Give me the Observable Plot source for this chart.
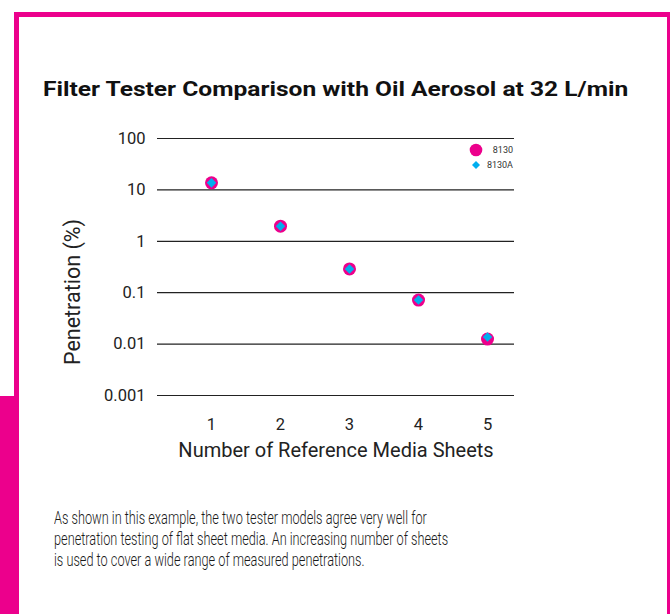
<!DOCTYPE html>
<html>
<head>
<meta charset="utf-8">
<script src="https://cdn.jsdelivr.net/npm/d3@7"></script>
<script src="https://cdn.jsdelivr.net/npm/@observablehq/plot@0.6"></script>
<style>
  html, body { margin: 0; padding: 0; background: #fff; }
  #page { position: relative; width: 670px; height: 614px; overflow: hidden; font-family: Roboto, "Open Sans", sans-serif; }
  .bar { position: absolute; background: #EC008C; }
  #title { position: absolute; left: 43px; top: 77px; font-family: Roboto, sans-serif; font-weight: 700; font-size: 21px; color: #111; white-space: nowrap; transform-origin: 0 0; }
  #chart { position: absolute; left: 0; top: 120px; }
  #legend { position: absolute; left: 467px; top: 143px; width: 46px; font-size: 9px; color: #333; }
  #legend .row { position: relative; height: 15px; }
  #legend .row svg { position: absolute; left: 2px; top: 0; }
  #legend .row span { position: absolute; right: 0; top: 2px; }
  #caption { position: absolute; left: 54px; top: 507px; font-family: Roboto, sans-serif; font-weight: 300; font-size: 18px; line-height: 21px; color: #1a1a1a; white-space: nowrap; transform-origin: 0 0; }
</style>
</head>
<body>
<div id="page">
  <div class="bar" style="left:14px; top:12px; width:656px; height:5px;"></div>
  <div class="bar" style="left:14px; top:12px; width:5px; height:602px;"></div>
  <div class="bar" style="left:667px; top:12px; width:3px; height:602px;"></div>
  <div class="bar" style="left:0px; top:396px; width:19px; height:218px;"></div>
  <div id="title">Filter Tester Comparison with Oil Aerosol at 32 L/min</div>
  <div id="chart"></div>
  <div id="legend"></div>
  <div id="caption">As shown in this example, the two tester models agree very well for<br>penetration testing of flat sheet media. An increasing number of sheets<br>is used to cover a wide range of measured penetrations.</div>
</div>
<script>
const sheets = [1, 2, 3, 4, 5];
const pen8130 = [13.7, 1.97, 0.29, 0.072, 0.0125];
const pen8130A = [13.7, 1.97, 0.29, 0.072, 0.0138];
const yTicks = [0.001, 0.01, 0.1, 1, 10, 100];
const yTickLabels = ["0.001", "0.01", "0.1", "1", "10", "100"];
const seriesNames = ["8130", "8130A"];
const seriesColors = ["#EC008C", "#00AEEF"];
const xLabel = "Number of Reference Media Sheets";
const yLabel = "Penetration (%)";

const d8130 = sheets.map((s, i) => ({sheets: s, pen: pen8130[i]}));
const d8130A = sheets.map((s, i) => ({sheets: s, pen: pen8130A[i]}));

const chart = Plot.plot({
  width: 670,
  height: 350,
  marginLeft: 157,
  marginRight: 156,
  marginTop: 18,
  marginBottom: 75,
  style: {fontFamily: "Roboto, 'Open Sans', sans-serif", color: "#222", background: "transparent"},
  x: {domain: [0.2174, 5.391]},
  y: {type: "log", domain: [0.001, 100]},
  marks: [
    Plot.ruleY(yTicks, {stroke: "#222", strokeWidth: 1.2}),
    Plot.axisY({ticks: yTicks, tickFormat: d => yTickLabels[yTicks.indexOf(d)], tickSize: 0, tickPadding: 12, fontSize: 16.5, label: null}),
    Plot.axisX({ticks: sheets, tickFormat: d => String(d), tickSize: 0, tickPadding: 23, fontSize: 16.5, label: null}),
    Plot.text([yLabel], {text: d => d, frameAnchor: "left", textAnchor: "middle", lineAnchor: "middle", rotate: -90, dx: -84, dy: 25, fontSize: 21.5, fill: "#222"}),
    Plot.text([xLabel], {text: d => d, frameAnchor: "bottom", textAnchor: "middle", dy: 61, fontSize: 20, fill: "#222"}),
    Plot.dot(d8130, {x: "sheets", y: "pen", r: 6.5, fill: seriesColors[0], stroke: "none"}),
    Plot.dot(d8130A, {x: "sheets", y: "pen", symbol: "diamond2", r: 4.3, fill: seriesColors[1], stroke: "none"})
  ]
});
document.getElementById("chart").appendChild(chart);

// legend
const legend = document.getElementById("legend");
seriesNames.forEach((name, i) => {
  const row = document.createElement("div");
  row.className = "row";
  const sym = i === 0
    ? `<svg width="14" height="14"><circle cx="7" cy="7" r="6.3" fill="${seriesColors[i]}"/></svg>`
    : `<svg width="14" height="14"><path d="M7,3 L11,7 L7,11 L3,7 Z" fill="${seriesColors[i]}"/></svg>`;
  row.innerHTML = sym + `<span>${name}</span>`;
  legend.appendChild(row);
});

// fit text blocks to the reference widths
function fitWidth(el, target) {
  const w = el.scrollWidth;
  el.style.transform = `scaleX(${target / w})`;
}
fitWidth(document.getElementById("title"), 585);
fitWidth(document.getElementById("caption"), 394);
</script>
</body>
</html>
